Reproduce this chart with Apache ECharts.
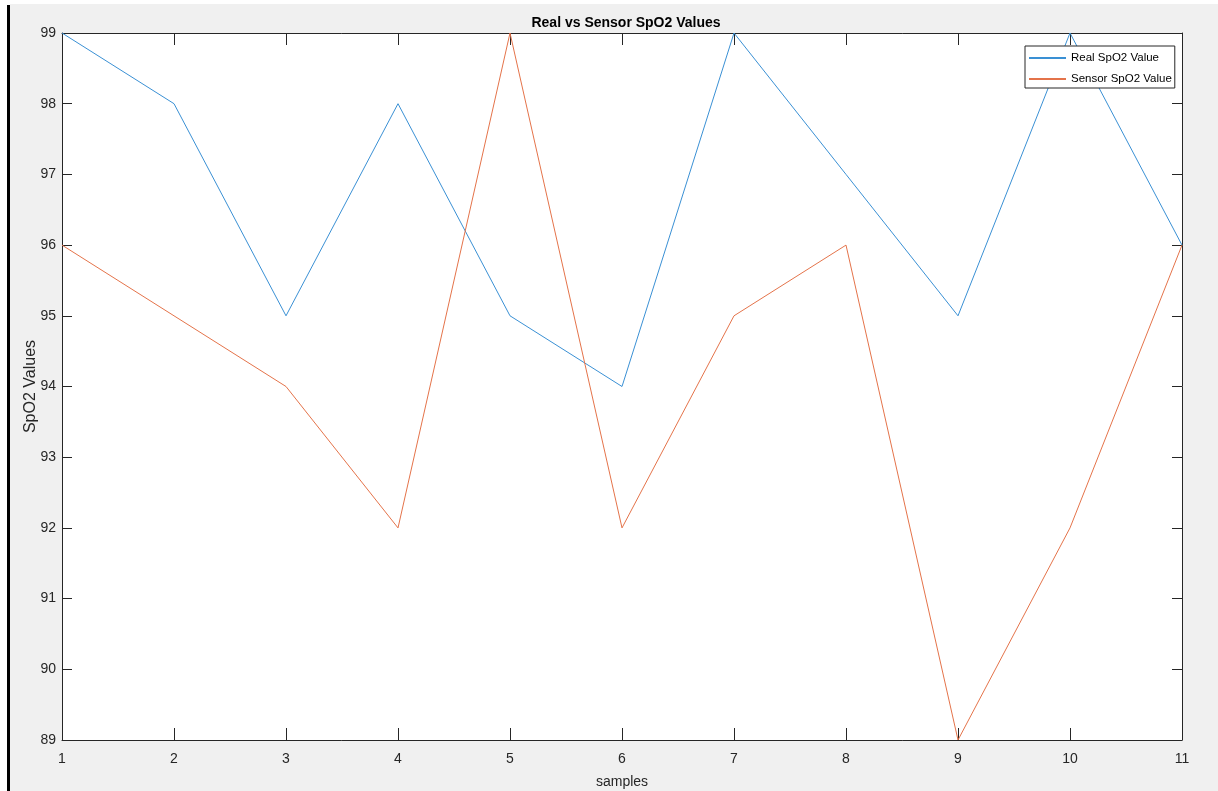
<!DOCTYPE html>
<html>
<head>
<meta charset="utf-8">
<script src="https://cdn.jsdelivr.net/npm/echarts@6/dist/echarts.min.js"></script>
<style>
  html, body { margin: 0; padding: 0; background: #ffffff; }
  #bg { position: absolute; left: 10px; top: 4px; width: 1208px; height: 787px; background: #f0f0f0; }
  #bar { position: absolute; left: 7px; top: 5px; width: 3px; height: 786px; background: #000; }
  #chart { position: absolute; left: 0; top: 0; width: 1218px; height: 791px; }
</style>
</head>
<body>
<div id="bg"></div>
<div id="bar"></div>
<div id="chart"></div>
<script>
const samples = [1, 2, 3, 4, 5, 6, 7, 8, 9, 10, 11];
const realSpO2 = [99, 98, 95, 98, 95, 94, 99, 97, 95, 99, 96];
const sensorSpO2 = [96, 95, 94, 92, 99, 92, 95, 96, 89, 92, 96];
const titleText = 'Real vs Sensor SpO2 Values';
const xName = 'samples';
const yName = 'SpO2 Values';
const seriesNames = ['Real SpO2 Value', 'Sensor SpO2 Value'];

const FONT = "'Liberation Sans', Arial, Helvetica, sans-serif";
const AX = '#262626';
const BLUE = '#3a90d4';
const ORANGE = '#e4734a';

const chart = echarts.init(document.getElementById('chart'), null, { renderer: 'canvas' });

function xAxisCfg(pos, showLabels) {
  return {
    type: 'value', position: pos, min: 1, max: 11, interval: 1,
    axisLine: { show: true, onZero: false, lineStyle: { color: AX, width: 1 } },
    axisTick: { show: true, inside: true, length: 12, lineStyle: { color: AX, width: 1 } },
    axisLabel: { show: showLabels, color: AX, fontFamily: FONT, fontSize: 14, margin: 12 },
    splitLine: { show: false },
    name: showLabels ? xName : '',
    nameLocation: 'middle', nameGap: 35, nameMoveOverlap: false,
    nameTextStyle: { color: AX, fontFamily: FONT, fontSize: 14 }
  };
}
function yAxisCfg(pos, showLabels) {
  return {
    type: 'value', position: pos, min: 89, max: 99, interval: 1,
    axisLine: { show: true, onZero: false, lineStyle: { color: AX, width: 1 } },
    axisTick: { show: true, inside: true, length: 10, lineStyle: { color: AX, width: 1 } },
    axisLabel: { show: showLabels, color: AX, fontFamily: FONT, fontSize: 14, margin: 6 },
    splitLine: { show: false },
    name: showLabels ? yName : '',
    nameLocation: 'middle', nameGap: 23, nameMoveOverlap: false,
    nameTextStyle: { color: AX, fontFamily: FONT, fontSize: 16 }
  };
}

chart.setOption({
  animation: false,
  title: {
    text: titleText, left: 621, textAlign: 'center', top: 11,
    textStyle: { color: '#000', fontFamily: FONT, fontWeight: 'bold', fontSize: 14 }
  },
  grid: {
    left: 62, right: 36, top: 33, bottom: 51, outerBoundsMode: 'none', containLabel: false,
    show: true, backgroundColor: '#ffffff', borderWidth: 0
  },
  legend: {
    orient: 'vertical', left: 1025, top: 46,
    data: seriesNames,
    itemWidth: 37, itemHeight: 12, itemGap: 9,
    padding: [6, 3, 3, 3],
    itemStyle: { opacity: 0 },
    backgroundColor: '#ffffff', borderColor: AX, borderWidth: 1, borderRadius: 0,
    textStyle: { color: '#000', fontFamily: FONT, fontSize: 11.5 }
  },
  xAxis: [xAxisCfg('bottom', true), xAxisCfg('top', false)],
  yAxis: [yAxisCfg('left', true), yAxisCfg('right', false)],
  series: [
    {
      name: seriesNames[0], type: 'line', symbol: 'none',
      data: samples.map((s, i) => [s, realSpO2[i]]),
      lineStyle: { color: BLUE, width: 1 }, itemStyle: { color: BLUE }
    },
    {
      name: seriesNames[1], type: 'line', symbol: 'none',
      data: samples.map((s, i) => [s, sensorSpO2[i]]),
      lineStyle: { color: ORANGE, width: 1 }, itemStyle: { color: ORANGE }
    }
  ]
});
</script>
</body>
</html>
